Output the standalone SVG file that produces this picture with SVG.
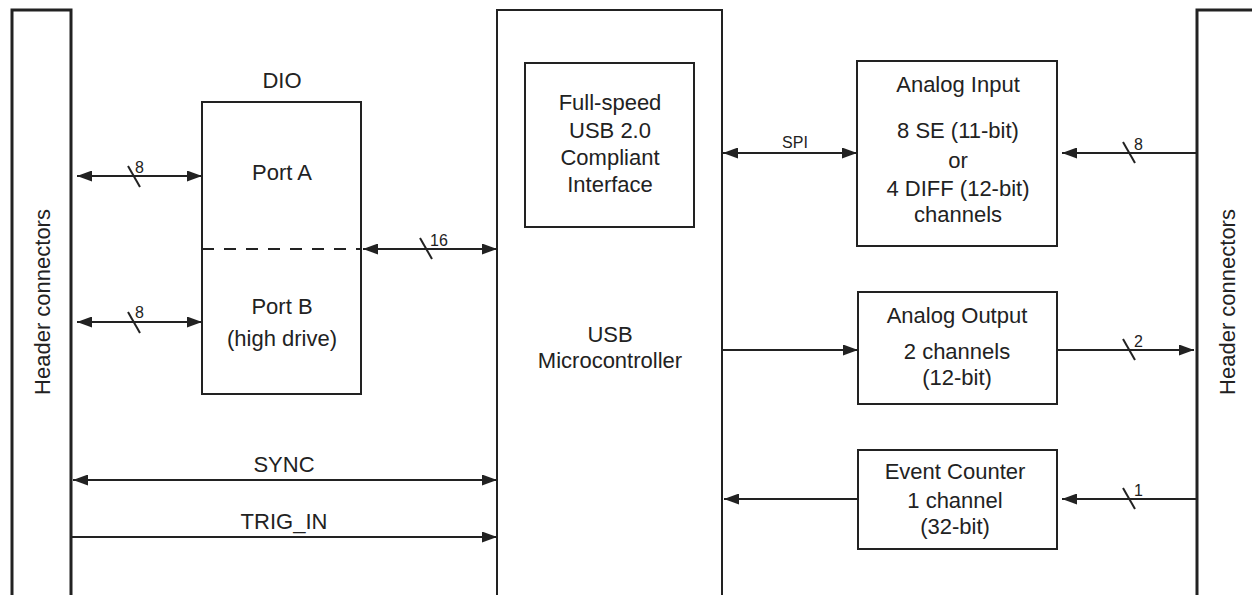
<svg xmlns="http://www.w3.org/2000/svg" width="1252" height="595" viewBox="0 0 1252 595">
<style>
.box{fill:none;stroke:#222;stroke-width:2}
.hdr{fill:none;stroke:#222;stroke-width:3}
.ln{fill:none;stroke:#222;stroke-width:2}
.sl{fill:none;stroke:#222;stroke-width:2}
text{font-family:"Liberation Sans",Arial,sans-serif;fill:#222;text-anchor:middle}
.t{font-size:22px}
.s{font-size:16px;text-anchor:start}
.m{font-size:16px}
</style>
<defs>
<marker id="ah" markerUnits="userSpaceOnUse" markerWidth="15" markerHeight="11" refX="15" refY="5.5" orient="auto-start-reverse" viewBox="0 0 15 11">
<path d="M0,0 L15,5.5 L0,11 z" fill="#222"/>
</marker>
</defs>
<rect width="1252" height="595" fill="#fff"/>

<g id="header-left">
<path class="hdr" d="M12,600 V10 H71 V600"/>
<text class="t" transform="translate(50,302) rotate(-90)">Header connectors</text>
</g>

<g id="header-right">
<path class="hdr" d="M1197,600 V10 H1260"/>
<text class="t" transform="translate(1235,302) rotate(-90)">Header connectors</text>
</g>

<g id="dio">
<text class="t" x="282" y="88">DIO</text>
<rect class="box" x="202" y="102" width="159" height="292"/>
<line class="ln" x1="202" y1="249" x2="361" y2="249" stroke-dasharray="12,10"/>
<text class="t" x="282" y="180">Port A</text>
<text class="t" x="282" y="314">Port B</text>
<text class="t" x="282" y="346">(high drive)</text>
</g>

<g id="microcontroller">
<path class="box" d="M497,600 V10 H722 V600"/>
<text class="t" x="610" y="342">USB</text>
<text class="t" x="610" y="368">Microcontroller</text>
</g>

<g id="usb-interface">
<rect class="box" x="525" y="63" width="169" height="164"/>
<text class="t" x="610" y="110">Full-speed</text>
<text class="t" x="610" y="138">USB 2.0</text>
<text class="t" x="610" y="165">Compliant</text>
<text class="t" x="610" y="192">Interface</text>
</g>

<g id="analog-input">
<rect class="box" x="857" y="61" width="200" height="185"/>
<text class="t" x="958" y="92">Analog Input</text>
<text class="t" x="958" y="138">8 SE (11-bit)</text>
<text class="t" x="958" y="168">or</text>
<text class="t" x="958" y="196">4 DIFF (12-bit)</text>
<text class="t" x="958" y="222">channels</text>
</g>

<g id="analog-output">
<rect class="box" x="858" y="292" width="199" height="112"/>
<text class="t" x="957" y="323">Analog Output</text>
<text class="t" x="957" y="359">2 channels</text>
<text class="t" x="957" y="385">(12-bit)</text>
</g>

<g id="event-counter">
<rect class="box" x="858" y="450" width="199" height="99"/>
<text class="t" x="955" y="479">Event Counter</text>
<text class="t" x="955" y="508">1 channel</text>
<text class="t" x="955" y="534">(32-bit)</text>
</g>

<g id="connectors">
<!-- Port A -->
<line class="ln" x1="77" y1="176" x2="202" y2="176" marker-start="url(#ah)" marker-end="url(#ah)"/>
<line class="sl" x1="128" y1="166" x2="140" y2="187"/>
<text class="s" x="135" y="173">8</text>
<!-- Port B -->
<line class="ln" x1="77" y1="322" x2="202" y2="322" marker-start="url(#ah)" marker-end="url(#ah)"/>
<line class="sl" x1="128" y1="312" x2="140" y2="333"/>
<text class="s" x="135" y="318">8</text>
<!-- 16 -->
<line class="ln" x1="363" y1="249" x2="497" y2="249" marker-start="url(#ah)" marker-end="url(#ah)"/>
<line class="sl" x1="420" y1="238" x2="432" y2="259"/>
<text class="s" x="430" y="246">16</text>
<!-- SYNC -->
<line class="ln" x1="73" y1="480" x2="497" y2="480" marker-start="url(#ah)" marker-end="url(#ah)"/>
<text class="t" x="284" y="472">SYNC</text>
<!-- TRIG_IN -->
<line class="ln" x1="71" y1="537" x2="497" y2="537" marker-end="url(#ah)"/>
<text class="t" x="284" y="529">TRIG_IN</text>
<!-- SPI -->
<line class="ln" x1="723" y1="153" x2="857" y2="153" marker-start="url(#ah)" marker-end="url(#ah)"/>
<text class="m" x="795" y="148">SPI</text>
<!-- Analog input from header -->
<line class="ln" x1="1197" y1="153" x2="1062" y2="153" marker-end="url(#ah)"/>
<line class="sl" x1="1123" y1="142" x2="1135" y2="163"/>
<text class="s" x="1134" y="150">8</text>
<!-- micro to analog output -->
<line class="ln" x1="722" y1="350" x2="858" y2="350" marker-end="url(#ah)"/>
<!-- analog output to header -->
<line class="ln" x1="1057" y1="350" x2="1194" y2="350" marker-end="url(#ah)"/>
<line class="sl" x1="1123" y1="339" x2="1135" y2="360"/>
<text class="s" x="1134" y="347">2</text>
<!-- header to event counter -->
<line class="ln" x1="1197" y1="499" x2="1062" y2="499" marker-end="url(#ah)"/>
<line class="sl" x1="1123" y1="488" x2="1135" y2="509"/>
<text class="s" x="1134" y="496">1</text>
<!-- event counter to micro -->
<line class="ln" x1="858" y1="499" x2="724" y2="499" marker-end="url(#ah)"/>
</g>
</svg>
